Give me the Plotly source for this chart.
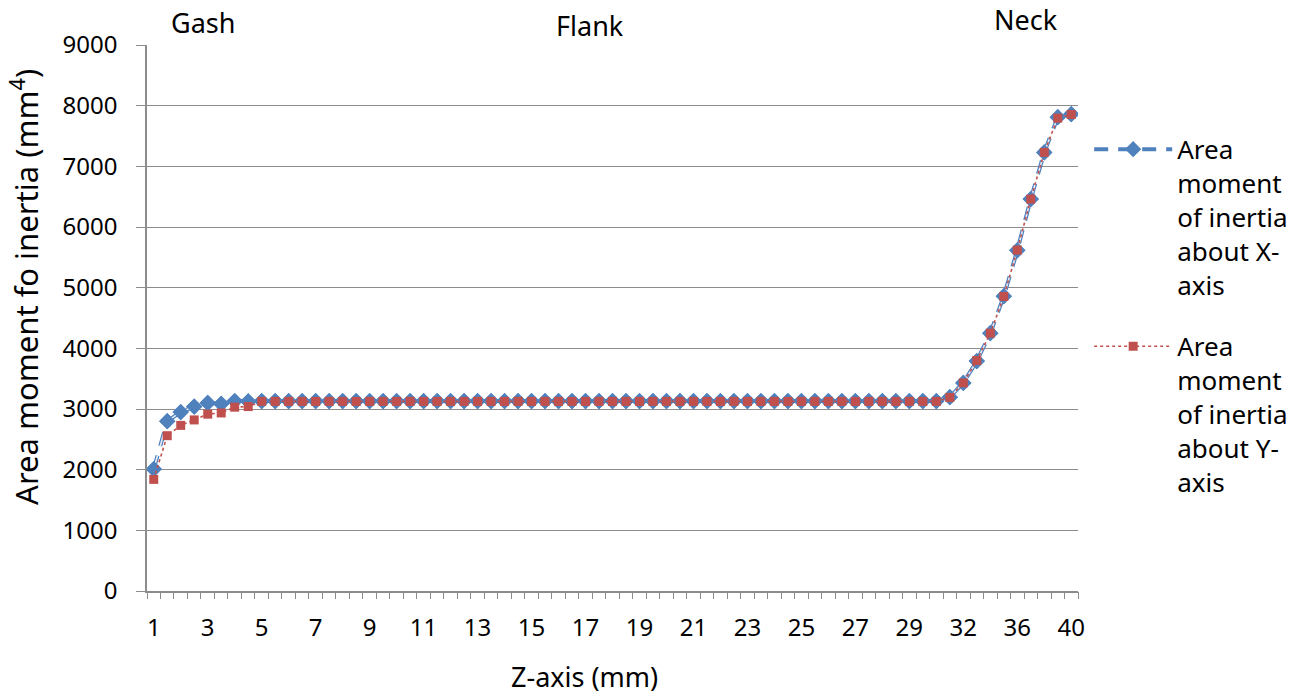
import plotly.graph_objects as go

# Section positions along the tool (mm)
z_mm = [
    1, 1.5, 2, 2.5, 3, 3.5, 4, 4.5, 5, 5.5,
    6, 6.5, 7, 7.5, 8, 8.5, 9, 9.5, 10, 10.5,
    11, 11.5, 12, 12.5, 13, 13.5, 14, 14.5, 15, 15.5,
    16, 16.5, 17, 17.5, 18, 18.5, 19, 19.5, 20, 20.5,
    21, 21.5, 22, 22.5, 23, 23.5, 24, 24.5, 25, 25.5,
    26, 26.5, 27, 27.5, 28, 28.5, 29, 29.5, 30,
    31, 32, 33, 34, 35, 36, 37, 38, 39, 40,
]

# Area moment of inertia about X-axis (mm^4)
inertia_x = [
    2010, 2800, 2950, 3040, 3100, 3085, 3130, 3125, 3130, 3130,
    3130, 3130, 3130, 3130, 3130, 3130, 3130, 3130, 3130, 3130,
    3130, 3130, 3130, 3130, 3130, 3130, 3130, 3130, 3130, 3130,
    3130, 3130, 3130, 3130, 3130, 3130, 3130, 3130, 3130, 3130,
    3130, 3130, 3130, 3130, 3130, 3130, 3130, 3130, 3130, 3130,
    3130, 3130, 3130, 3130, 3130, 3130, 3130, 3130, 3130,
    3195, 3430, 3790, 4250, 4860, 5615, 6460, 7230, 7810, 7860,
]

# Area moment of inertia about Y-axis (mm^4)
inertia_y = [
    1840, 2560, 2730, 2820, 2915, 2935, 3030, 3040, 3125, 3125,
    3125, 3125, 3125, 3125, 3125, 3125, 3125, 3125, 3125, 3125,
    3125, 3125, 3125, 3125, 3125, 3125, 3125, 3125, 3125, 3125,
    3125, 3125, 3125, 3125, 3125, 3125, 3125, 3125, 3125, 3125,
    3125, 3125, 3125, 3125, 3125, 3125, 3125, 3125, 3125, 3125,
    3125, 3125, 3125, 3125, 3125, 3125, 3125, 3125, 3125,
    3190, 3430, 3800, 4250, 4855, 5620, 6460, 7230, 7795, 7855,
]

# Category labels printed under the axis
x_tick_labels = ["1", "3", "5", "7", "9", "11", "13", "15", "17", "19", "21",
                 "23", "25", "27", "29", "32", "36", "40"]

y_tick_values = [0, 1000, 2000, 3000, 4000, 5000, 6000, 7000, 8000, 9000]

section_labels = ["Gash", "Flank", "Neck"]

series_x_name = "Area<br>moment<br>of inertia<br>about X-<br>axis"
series_y_name = "Area<br>moment<br>of inertia<br>about Y-<br>axis"

BLUE = "#4F81BD"
RED = "#C0504D"
GRID = "#8C8C8C"
FONT = "Noto Sans"
DASH = "14px,10px"

cats = [str(v) for v in z_mm]
cat_range = [-0.5, len(cats) - 0.5]

fig = go.Figure()

# X-axis series: outlined dashed line with diamond markers
fig.add_trace(go.Scatter(
    x=cats, y=inertia_x, mode="lines+markers", name=series_x_name,
    legendgroup="ix",
    line=dict(color=BLUE, width=4, dash=DASH),
    marker=dict(symbol="diamond", size=12.5, color=BLUE, line=dict(width=0)),
))
fig.add_trace(go.Scatter(
    x=cats, y=inertia_x, mode="lines", showlegend=False, legendgroup="ix",
    line=dict(color="#E4ECF6", width=1.6, dash=DASH), hoverinfo="skip",
))
fig.add_trace(go.Scatter(
    x=cats, y=inertia_x, mode="markers", showlegend=False, legendgroup="ix",
    marker=dict(symbol="diamond", size=12.5, color=BLUE, line=dict(width=0)),
))

# Y-axis series: dotted line with square markers (drawn on the tick-mark axis)
fig.add_trace(go.Scatter(
    x=cats, y=inertia_y, mode="lines+markers", name=series_y_name,
    xaxis="x2",
    line=dict(color=RED, width=1.6, dash="dot"),
    marker=dict(symbol="square", size=9, color=RED, line=dict(width=0)),
))

annotations = [
    dict(text=section_labels[0], x=0.0599, y=1.042),
    dict(text=section_labels[1], x=0.476, y=1.035),
    dict(text=section_labels[2], x=0.944, y=1.046),
]
for a in annotations:
    a.update(xref="paper", yref="paper", showarrow=False,
             xanchor="center", yanchor="middle",
             font=dict(family=FONT, size=27, color="black"))

annotations.append(dict(
    text="Z-axis (mm)", xref="paper", yref="paper", x=0.4695, y=-0.157,
    showarrow=False, xanchor="center", yanchor="middle",
    font=dict(family=FONT, size=27, color="black")))
annotations.append(dict(
    text="Area moment fo inertia (mm<sup>4</sup>)", xref="paper", yref="paper",
    x=-0.131, y=0.557, textangle=-90, showarrow=False,
    xanchor="center", yanchor="middle",
    font=dict(family=FONT, size=31, color="black")))

fig.update_layout(
    width=1305, height=696,
    margin=dict(l=147, r=223, t=45, b=105),
    paper_bgcolor="white", plot_bgcolor="white",
    font=dict(family=FONT, size=24, color="black"),
    showlegend=True,
    legend=dict(
        x=1.012, y=0.852, xanchor="left", yanchor="top",
        valign="top", tracegroupgap=25, itemwidth=78,
        font=dict(family=FONT, size=26, color="black"),
        bgcolor="rgba(0,0,0,0)",
    ),
    annotations=annotations,
    # labelled axis: shows the category labels
    xaxis=dict(
        type="category", categoryorder="array", categoryarray=cats,
        tickmode="array", tickvals=x_tick_labels, ticktext=x_tick_labels,
        tickangle=0, ticks="", showgrid=False, showline=True,
        linecolor=GRID, linewidth=1.5, zeroline=False,
        ticklabelstandoff=14,
        tickfont=dict(family=FONT, size=24, color="black"),
        range=cat_range,
    ),
    # companion axis: a tick mark at every category boundary
    xaxis2=dict(
        type="category", categoryorder="array", categoryarray=cats,
        overlaying="x", anchor="y", side="bottom",
        tickmode="array", tickvals=cats, tickson="boundaries",
        ticks="outside", ticklen=7, tickcolor=GRID, tickwidth=1,
        showticklabels=False, showgrid=False, showline=False,
        zeroline=False, range=cat_range,
    ),
    yaxis=dict(
        range=[0, 9000], tickmode="array", tickvals=y_tick_values,
        showgrid=True, gridcolor=GRID, gridwidth=1.3,
        ticks="outside", ticklen=9, tickcolor=GRID, tickwidth=1.3,
        showline=True, linecolor=GRID, linewidth=1.5, zeroline=False,
        ticklabelstandoff=14,
        tickfont=dict(family=FONT, size=24, color="black"),
    ),
)

fig.write_html("out.html")
